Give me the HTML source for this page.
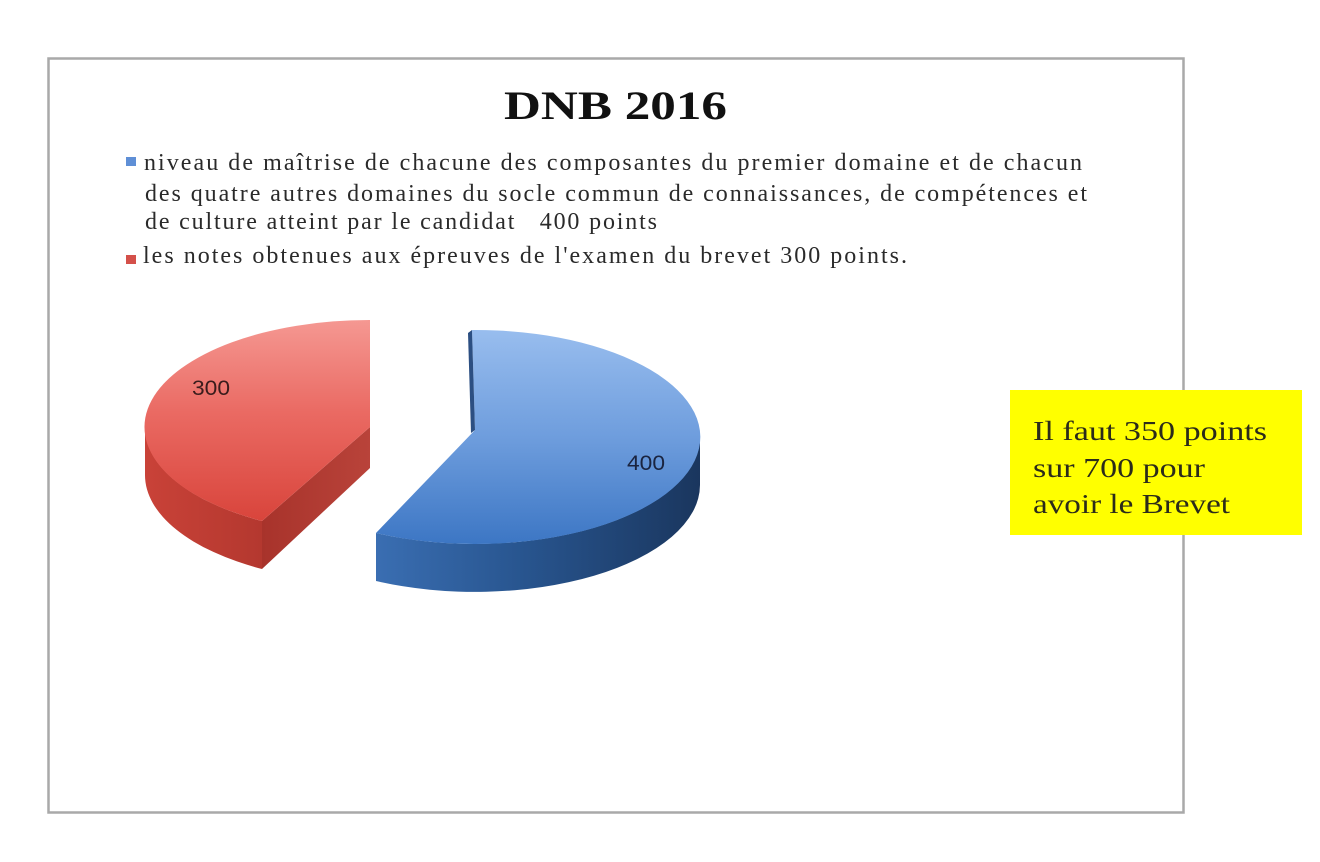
<!DOCTYPE html>
<html>
<head>
<meta charset="utf-8">
<style>
  html, body { margin: 0; padding: 0; background: #ffffff; }
  svg { display: block; }
</style>
</head>
<body>
<svg width="1320" height="862" viewBox="0 0 1320 862" xmlns="http://www.w3.org/2000/svg">
  <defs>
    <linearGradient id="redTop" x1="0" y1="320" x2="0" y2="525" gradientUnits="userSpaceOnUse">
      <stop offset="0" stop-color="#f59892"/>
      <stop offset="0.45" stop-color="#ea6a63"/>
      <stop offset="1" stop-color="#d8433a"/>
    </linearGradient>
    <linearGradient id="redSide" x1="145" y1="0" x2="262" y2="0" gradientUnits="userSpaceOnUse">
      <stop offset="0" stop-color="#c94238"/>
      <stop offset="1" stop-color="#b4382f"/>
    </linearGradient>
    <linearGradient id="redCut" x1="262" y1="0" x2="370" y2="0" gradientUnits="userSpaceOnUse">
      <stop offset="0" stop-color="#a8332b"/>
      <stop offset="1" stop-color="#b9433a"/>
    </linearGradient>
    <linearGradient id="blueTop" x1="0" y1="330" x2="0" y2="545" gradientUnits="userSpaceOnUse">
      <stop offset="0" stop-color="#98bdee"/>
      <stop offset="0.5" stop-color="#6e9ddd"/>
      <stop offset="1" stop-color="#3c76c4"/>
    </linearGradient>
    <linearGradient id="blueSide" x1="376" y1="0" x2="700" y2="0" gradientUnits="userSpaceOnUse">
      <stop offset="0" stop-color="#3a6eb2"/>
      <stop offset="0.45" stop-color="#28558f"/>
      <stop offset="1" stop-color="#1a365e"/>
    </linearGradient>
  </defs>

  <!-- chart border -->
  <rect x="48.5" y="58.5" width="1135" height="754" fill="#ffffff" stroke="#a9a9a9" stroke-width="2.5"/>

  <!-- title -->
  <text x="504" y="119" font-family="Liberation Serif, serif" font-weight="bold" font-size="40" fill="#111111" textLength="223" lengthAdjust="spacingAndGlyphs">DNB 2016</text>

  <!-- legend -->
  <rect x="126" y="157" width="10" height="9" fill="#5f8fd6"/>
  <rect x="126" y="255" width="10" height="9" fill="#d4504a"/>
  <g font-family="Liberation Serif, serif" font-size="24" fill="#2a2a2a">
    <text x="144" y="170" textLength="938" lengthAdjust="spacing">niveau de maîtrise de chacune des composantes du premier domaine et de chacun</text>
    <text x="145" y="201" textLength="942" lengthAdjust="spacing">des quatre autres domaines du socle commun de connaissances, de compétences et</text>
    <text x="145" y="229" textLength="512" lengthAdjust="spacing">de culture atteint par le candidat&#160;&#160; 400 points</text>
    <text x="143" y="263" textLength="764" lengthAdjust="spacing">les notes obtenues aux épreuves de l'examen du brevet 300 points.</text>
  </g>

  <!-- red slice -->
  <path d="M 145,420 L 145,427 A 225 107 0 0 0 262,521 L 262,569 A 225 107 0 0 1 145,475 Z" fill="url(#redSide)"/>
  <path d="M 370,427 L 262,521 L 262,569 L 370,468 Z" fill="url(#redCut)"/>
  <path d="M 370,320 L 370,427 L 262,521 A 225 107 0 0 1 370,320 Z" fill="url(#redTop)"/>

  <!-- blue slice -->
  <path d="M 376,533 A 225 107 0 0 0 700,437 L 700,485 A 225 107 0 0 1 376,581 Z" fill="url(#blueSide)"/>
  <path d="M 472,330 L 475,430 L 376,533 A 225 107 0 1 0 472,330 Z" fill="url(#blueTop)"/>
  <path d="M 468,333 L 472,330 L 475,430 L 471,433 Z" fill="#2c4f82"/>

  <!-- data labels -->
  <text x="192" y="395" font-family="Liberation Sans, sans-serif" font-size="21" fill="#3a1c1c" textLength="38" lengthAdjust="spacingAndGlyphs">300</text>
  <text x="627" y="470" font-family="Liberation Sans, sans-serif" font-size="21" fill="#1a2440" textLength="38" lengthAdjust="spacingAndGlyphs">400</text>

  <!-- yellow note -->
  <rect x="1010" y="390" width="292" height="145" fill="#ffff00"/>
  <g font-family="Liberation Serif, serif" font-size="27" fill="#2b2b1a">
    <text x="1033" y="440" textLength="234" lengthAdjust="spacingAndGlyphs">Il faut 350 points</text>
    <text x="1033" y="477" textLength="172" lengthAdjust="spacingAndGlyphs">sur 700 pour</text>
    <text x="1033" y="513" textLength="197" lengthAdjust="spacingAndGlyphs">avoir le Brevet</text>
  </g>
</svg>
</body>
</html>
